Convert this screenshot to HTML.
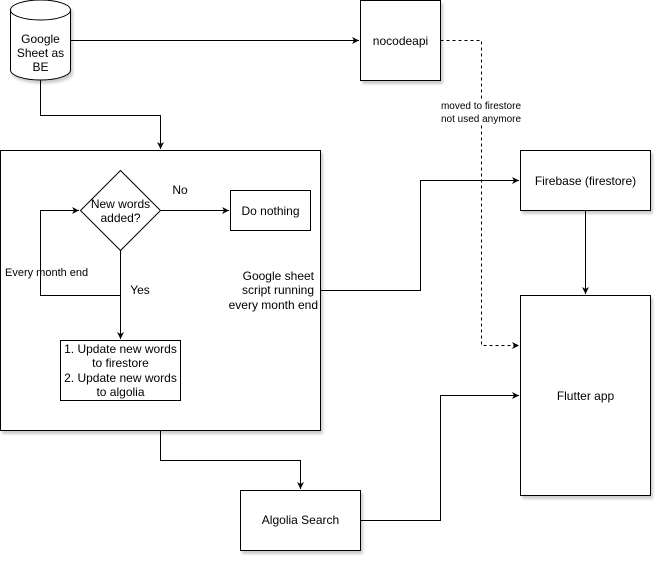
<!DOCTYPE html>
<html><head><meta charset="utf-8"><style>
body{margin:0;background:#fff}
svg text{font-family:"Liberation Sans",Helvetica,sans-serif;font-size:12px;fill:#000}
</style></head><body>
<svg width="662" height="562" viewBox="0 0 662 562" xmlns="http://www.w3.org/2000/svg">
<defs>
<marker id="a" markerWidth="8" markerHeight="8" refX="7" refY="4" orient="auto" markerUnits="userSpaceOnUse"><path d="M0,0.5 L7,4 L0,7.5 L2,4 Z" fill="#000"/></marker>
<filter id="s" x="-10%" y="-10%" width="130%" height="130%"><feDropShadow dx="2" dy="3" stdDeviation="1.2" flood-color="#000" flood-opacity="0.2"/></filter>
</defs>
<g fill="#fff" stroke="#000" stroke-width="1" filter="url(#s)">
<path d="M10.5,10 A30,10 0 0 1 70.5,10 L70.5,70 A30,10 0 0 1 10.5,70 Z"/>
<rect x="360.5" y="0.5" width="80" height="80"/>
<rect x="0.5" y="150.5" width="320" height="280"/>
<rect x="520.5" y="150.5" width="130" height="60"/>
<rect x="520.5" y="295.5" width="130" height="200"/>
<rect x="240.5" y="490.5" width="120" height="60"/>
</g>
<path d="M10.5,10 A30,10 0 0 0 70.5,10" fill="none" stroke="#000"/>
<g fill="#fff" stroke="#000">
<path d="M120.5,170.5 L160.5,210.5 L120.5,250.5 L80.5,210.5 Z"/>
<rect x="230.5" y="190.5" width="80" height="40"/>
<rect x="60.5" y="340.5" width="120" height="60"/>
</g>
<g fill="none" stroke="#000">
<path d="M70.5,40.5 H359" marker-end="url(#a)"/>
<path d="M40.5,80.5 V115.5 H160.5 V149" marker-end="url(#a)"/>
<path d="M160.5,210.5 H229" marker-end="url(#a)"/>
<path d="M120.5,250.5 V339" marker-end="url(#a)"/>
<path d="M120.5,295.5 H40.5 V210.5 H79" marker-end="url(#a)"/>
<path d="M320.5,290.5 H420.5 V180.5 H519" marker-end="url(#a)"/>
<path d="M585.5,210.5 V294" marker-end="url(#a)"/>
<path d="M160.5,430.5 V460.5 H300.5 V489" marker-end="url(#a)"/>
<path d="M360.5,520.5 H440.5 V395.5 H519" marker-end="url(#a)"/>
<path d="M440.5,40.5 H481.5 V345.5 H519" stroke-dasharray="3,3" marker-end="url(#a)"/>
</g>
<rect x="436" y="99" width="90" height="26" fill="#fff"/>
<text x="481" y="109" text-anchor="middle" font-size="10" style="font-size:10px">moved to firestore</text>
<text x="481" y="122" text-anchor="middle" style="font-size:10px">not used anymore</text>
<g text-anchor="middle">
<text x="40.5" y="43">Google</text>
<text x="40.5" y="57">Sheet as</text>
<text x="40.5" y="71">BE</text>
<text x="400.5" y="45">nocodeapi</text>
<text x="120.5" y="208">New words</text>
<text x="120.5" y="222">added?</text>
<text x="180" y="194">No</text>
<text x="270.5" y="215">Do nothing</text>
<text x="140" y="294">Yes</text>
<text x="120.5" y="353">1. Update new words</text>
<text x="120.5" y="367">to firestore</text>
<text x="120.5" y="382">2. Update new words</text>
<text x="120.5" y="396">to algolia</text>
<text x="585.5" y="185">Firebase (firestore)</text>
<text x="585.5" y="400">Flutter app</text>
<text x="300.5" y="524">Algolia Search</text>
</g>
<text x="5" y="276" style="font-size:11px">Every month end</text>
<g text-anchor="end">
<text x="314" y="280">Google sheet</text>
<text x="314" y="294">script running</text>
<text x="318" y="309">every month end</text>
</g>
</svg>
</body></html>
